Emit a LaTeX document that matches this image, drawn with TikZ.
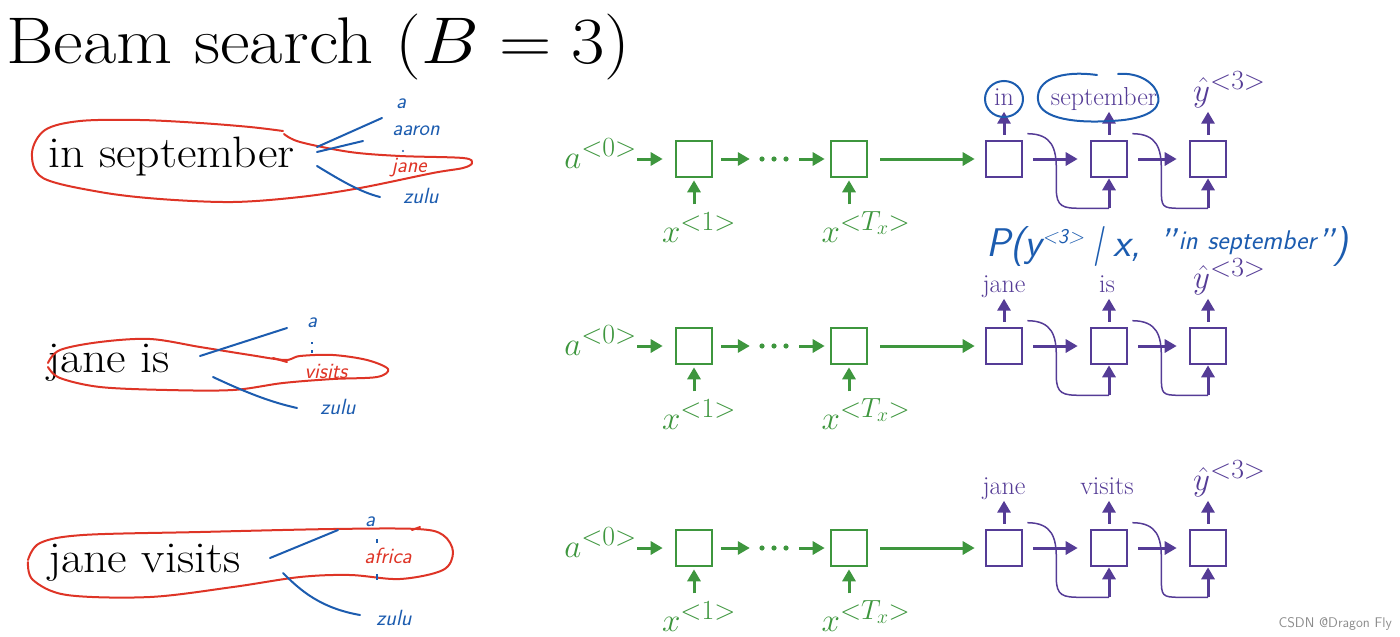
\documentclass[tikz,border=0pt]{standalone}
\usepackage{fix-cm}
\usetikzlibrary{arrows.meta,calc}
\definecolor{cgreen}{RGB}{62,150,62}
\definecolor{cpurple}{RGB}{85,60,150}
\definecolor{cred}{RGB}{222,52,38}
\definecolor{cblue}{RGB}{28,92,175}
\newcommand\supr[1]{^{\scalebox{1.2}{$\scriptstyle #1$}}}
\newcommand\fbcurve[2]{%
  \draw[pthin] ($(#1.north east)+(4,-6)$) .. controls +(25,0) and +(0,-20) .. ($(#1.east)+(33,10)$)
     -- ($(#1.east)+(33,30)$) .. controls +(0,18) and +(-18,0) .. ($(#2.south)+(-28,30)$) -- ($(#2.south)+(0,30)$);
  \draw[parrow] ($(#2.south)+(0,30)$) -- (#2.south);}
\begin{document}
\begin{tikzpicture}[x=1pt,y=-1pt,
  gbox/.style={draw=cgreen, line width=2.6pt, minimum size=36pt, inner sep=0},
  pbox/.style={draw=cpurple, line width=2.6pt, minimum size=36pt, inner sep=0},
  garrow/.style={draw=cgreen, line width=3pt, -{Triangle[length=12pt,width=13pt]}},
  parrow/.style={draw=cpurple, line width=3pt, -{Triangle[length=12pt,width=13pt]}},
  pthin/.style={draw=cpurple, line width=1.5pt},
  gtxt/.style={text=cgreen, font=\fontsize{33}{33}\selectfont, inner sep=0},
  ptxt/.style={text=cpurple, font=\fontsize{26}{26}\selectfont, inner sep=0, text depth=0pt, anchor=south},
  ytxt/.style={text=cpurple, font=\fontsize{33}{33}\selectfont, inner sep=0, anchor=base west},
  lefttxt/.style={font=\fontsize{44}{44}\selectfont, inner sep=0, anchor=base west},
  redloop/.style={draw=cred, line width=2pt, line cap=round, line join=round},
  bluestroke/.style={draw=cblue, line width=2pt, line cap=round},
  hand/.style={font=\fontsize{22}{22}\selectfont\sffamily\itshape, inner sep=0, text=cblue},
  redhand/.style={hand, text=cred},
]
\useasboundingbox (0,0) rectangle (1400,637);
% title
\node[inner sep=0, anchor=base west, font=\fontsize{66}{70}\selectfont] (title) at (6,63) {\scalebox{1.1}[1]{Beam search ($B = 3$)}};

% network rows
\foreach \r/\c in {1/159, 2/346, 3/548}{
  \node[gbox] (g1-\r) at (694,\c) {};
  \node[gbox] (g2-\r) at (849,\c) {};
  \node[pbox] (p1-\r) at (1004,\c) {};
  \node[pbox] (p2-\r) at (1109,\c) {};
  \node[pbox] (p3-\r) at (1208,\c) {};
  \node[gtxt, anchor=base east] (a0-\r) at (637,\c+9) {$a\supr{<0>}$};
  \node[inner sep=0, minimum width=30pt, minimum height=6pt] (dots-\r) at (774,\c) {};
  \fill[cgreen] (dots-\r.center) circle (2.6pt) ++(-12,0) circle (2.6pt) ++(24,0) circle (2.6pt);
  \draw[garrow, shorten >=12pt] (a0-\r.east |- g1-\r.west) -- (g1-\r.west);
  \draw[garrow, shorten <=8pt, shorten >=9pt] (g1-\r.east) -- (dots-\r.west);
  \draw[garrow, shorten <=10pt, shorten >=5pt] (dots-\r.east) -- (g2-\r.west);
  \draw[garrow, shorten <=12pt, shorten >=10pt] (g2-\r.east) -- (p1-\r.west);
  \node[gtxt, anchor=base] (x1-\r) at (699,\c+83) {$x\supr{<1>}$};
  \node[gtxt, anchor=base] (xT-\r) at (866,\c+83) {$x\supr{<T_x>}$};
  \coordinate (xin1-\r) at ($(g1-\r.south)+(0,26)$);
  \coordinate (xinT-\r) at ($(g2-\r.south)+(0,26)$);
  \draw[garrow, shorten >=2pt] (xin1-\r) -- (g1-\r.south);
  \draw[garrow, shorten >=2pt] (xinT-\r) -- (g2-\r.south);
  \draw[parrow, shorten <=10pt, shorten >=12pt] (p1-\r.east) -- (p2-\r.west);
  \draw[parrow, shorten <=10pt, shorten >=12pt] (p2-\r.east) -- (p3-\r.west);
  \fbcurve{p1-\r}{p2-\r}
  \fbcurve{p2-\r}{p3-\r}
  \coordinate (out1-\r) at ($(p1-\r.north)+(0,-28)$);
  \coordinate (out2-\r) at ($(p2-\r.north)+(0,-28)$);
  \coordinate (out3-\r) at ($(p3-\r.north)+(0,-28)$);
  \draw[parrow, shorten <=5pt] (p1-\r.north) -- (out1-\r);
  \draw[parrow, shorten <=5pt] (p2-\r.north) -- (out2-\r);
  \draw[parrow, shorten <=5pt] (p3-\r.north) -- (out3-\r);
  \node[ytxt] (yh-\r) at (1193,\c-58) {$\hat{y}\supr{<3>}$};
}
% output words
\node[ptxt] (w1-1) at (1004,106) {in};
\node[ptxt] (w2-1) at (1104,106) {september};
\node[ptxt] (w1-2) at (1004,293) {jane};
\node[ptxt] (w2-2) at (1107,293) {is};
\node[ptxt] (w1-3) at (1004,495) {jane};
\node[ptxt] (w2-3) at (1107,495) {visits};
% blue circles
\draw[bluestroke] (1004,99) ellipse (19pt and 18pt);
\draw[bluestroke] (1097,75) .. controls (1060,70) and (1036,80) .. (1038,100)
   .. controls (1040,120) and (1080,123) .. (1110,121) .. controls (1140,120) and (1162,112) .. (1158,96)
   .. controls (1156,84) and (1140,72) .. (1118,74);

% handwritten probability
\node[hand, anchor=base west, font=\fontsize{40}{40}\selectfont\sffamily\itshape] (prob) at (986,256)
  {P(y\raisebox{13pt}{\fontsize{21}{21}\selectfont <3>}\hspace{8pt}|\hspace{10pt}x,\hspace{18pt}"\hspace{2pt}\raisebox{7pt}{\fontsize{27}{27}\selectfont in\hspace{10pt}september}")};

% left: partial sentences
\node[lefttxt] (s1) at (48,167) {\scalebox{1.09}[1]{in september}};
\node[lefttxt] (s2) at (47,372) {\scalebox{1.09}[1]{jane is}};
\node[lefttxt] (s3) at (48,572) {\scalebox{1.09}[1]{jane visits}};

% row 1 hand annotations
\draw[redloop] plot[smooth, tension=0.55] coordinates {(283,131) (250,127) (200,123) (140,120) (80,121) (45,130) (32,153) (43,178) (100,192) (160,199) (233,202) (300,197) (360,188) (433,173) (463,168) (472,163) (463,158) (400,156) (350,152) (300,142) (284,134)};
\draw[bluestroke] (317,147) -- (382,118);
\draw[bluestroke] (317,152) -- (363,141);
\draw[bluestroke] (317,166) .. controls (340,180) and (360,192) .. (380,197);
\node[hand] (h1a) at (401,104) {a};
\node[hand] (h1b) at (416,131) {aaron};
\node[redhand] (h1c) at (409,168) {jane};
\node[hand] (h1d) at (421,196) {zulu};
\fill[cblue] (403,151) circle (1.2pt);

% row 2 hand annotations
\draw[redloop] plot[smooth, tension=0.55] coordinates {(48,363) (60,350) (100,342) (150,339) (200,347) (250,355) (285,360) (300,356) (333,355) (367,360) (388,369) (377,377) (333,379) (283,383) (233,390) (167,390) (100,387) (60,378) (48,367)};
\draw[redloop] (273,358) -- (287,362);
\draw[bluestroke] (200,356) -- (287,328);
\draw[bluestroke] (213,377) .. controls (245,392) and (270,402) .. (297,408);
\node[hand] (h2a) at (312,323) {a};
\node[redhand] (h2b) at (326,371) {visits};
\node[hand] (h2c) at (338,407) {zulu};
\draw[cblue, line width=1.2pt] (312,342) -- (312,344) (312,350) -- (312,353);

% row 3 hand annotations
\draw[redloop] plot[smooth, tension=0.55] coordinates {(28,560) (40,543) (83,535) (200,532) (333,529) (417,529) (443,535) (453,552) (443,570) (400,579) (350,575) (300,577) (233,587) (150,597) (67,595) (33,580) (28,562)};
\draw[redloop] (412,530) -- (420,527);
\draw[bluestroke] (270,558) -- (338,530);
\draw[bluestroke] (283,573) .. controls (300,590) and (320,608) .. (360,615);
\node[hand] (h3a) at (370,522) {a};
\node[redhand] (h3b) at (388,556) {africa};
\node[hand] (h3c) at (394,618) {zulu};
\draw[cblue, line width=1.2pt] (377,539) -- (377,543) (377,574) -- (377,580);

% watermark
\node[inner sep=0, anchor=base east, text=black!45, font=\fontsize{14}{14}\selectfont\sffamily] (wm) at (1392,627) {CSDN @Dragon Fly};
\end{tikzpicture}
\end{document}
